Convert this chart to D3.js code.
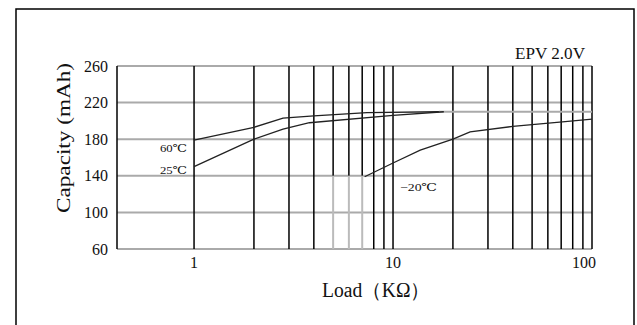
<!DOCTYPE html>
<html lang="en">
<head>
  <meta charset="UTF-8">
  <title>Capacity vs Load</title>
  <script src="https://d3js.org/d3.v7.min.js"></script>
  <style>
    body { margin: 0; background: #fff; }
    text { font-family: "Liberation Serif", "DejaVu Serif", serif; fill: #111; }
    .hgrid { stroke: #aaa; stroke-width: 2px; }
    .vgrid { stroke: #000; stroke-width: 1.5px; }
    .curve { fill: none; stroke: #222; stroke-width: 1.3px; }
  </style>
</head>
<body>
<svg id="chart" width="637" height="325"></svg>
<script>
  // data
  const loadTicks = [1, 2, 3, 4, 5, 6, 7, 8, 9, 10, 20, 30, 40, 50, 60, 70, 80, 90, 100];
  const loadLabels = [1, 10, 100];
  const capTicks = [60, 100, 140, 180, 220, 260];
  const faintBelow140 = [5, 6, 7];   // these verticals are grey under 140

  const hot60 = [[1, 179], [2, 193], [2.8, 203], [4, 205.5], [7.4, 209], [17, 210]];
  const room25 = [[1, 150], [2, 180], [2.8, 191], [3.8, 198], [10, 206], [18, 210]];
  const cold20 = [[7.2, 139], [10, 154], [13.7, 168], [20, 180], [24.4, 188], [40, 194], [71, 199], [100, 202]];
  const plateau = [[17, 210], [100, 210]];

  const svg = d3.select("#chart");

  // outer frame
  svg.append("rect").attr("x", 16).attr("y", 9).attr("width", 618).attr("height", 340)
     .attr("fill", "none").attr("stroke", "#000").attr("stroke-width", 1.5);

  const x = d3.scaleLog().domain([0.41, 100]).range([117, 592]);
  const y = d3.scaleLinear().domain([60, 260]).range([249, 66]);

  // horizontal grey lines
  svg.selectAll("line.hgrid").data(capTicks).join("line")
     .attr("class", "hgrid")
     .attr("x1", x.range()[0]).attr("x2", x.range()[1])
     .attr("y1", d => y(d)).attr("y2", d => y(d));

  // vertical lines
  svg.selectAll("line.vgrid").data(loadTicks).join("line")
     .attr("class", "vgrid")
     .attr("x1", d => x(d)).attr("x2", d => x(d))
     .attr("y1", y(260))
     .attr("y2", d => faintBelow140.includes(d) ? y(140) : y(60));
  svg.selectAll("line.vfaint").data(faintBelow140).join("line")
     .attr("class", "vfaint")
     .attr("stroke", "#bbb").attr("stroke-width", 2)
     .attr("x1", d => x(d)).attr("x2", d => x(d))
     .attr("y1", y(140)).attr("y2", y(60));

  // left axis line
  svg.append("line").attr("x1", x.range()[0]).attr("x2", x.range()[0])
     .attr("y1", y(260)).attr("y2", y(60)).attr("stroke", "#000").attr("stroke-width", 1.5);

  // y tick labels
  svg.selectAll("text.ylab").data(capTicks).join("text")
     .attr("class", "ylab")
     .attr("x", 108).attr("y", d => y(d) + 5.5)
     .attr("text-anchor", "end").attr("font-size", 16)
     .text(d => d);

  // x tick labels
  svg.selectAll("text.xlab").data(loadLabels).join("text")
     .attr("class", "xlab")
     .attr("x", d => d === 100 ? x(d) - 8 : x(d))
     .attr("y", 268)
     .attr("text-anchor", "middle").attr("font-size", 16)
     .text(d => d);

  // curves
  const line = d3.line().x(d => x(d[0])).y(d => y(d[1]));
  svg.append("path").datum(plateau).attr("d", line)
     .attr("fill", "none").attr("stroke", "#aaa").attr("stroke-width", 2);
  [hot60, room25, cold20].forEach(s => {
    svg.append("path").datum(s).attr("class", "curve").attr("d", line);
  });

  // curve labels (glyphs stretched to the widths seen in the picture)
  const label = (tx, ty, len, size, str) =>
    svg.append("text").attr("x", tx).attr("y", ty)
       .attr("font-size", size).attr("textLength", len)
       .attr("lengthAdjust", "spacingAndGlyphs").text(str);

  label(160, 152, 27, 11, "60℃");
  label(160, 174, 27, 11, "25℃");
  label(400, 191, 37, 11, "−20℃");
  label(515, 59, 70, 16, "EPV 2.0V");
  label(322, 297, 108, 20, "Load（KΩ）");

  // y title
  svg.append("text").attr("transform", "translate(70,138) rotate(-90)")
     .attr("text-anchor", "middle").attr("font-size", 18)
     .attr("textLength", 150).attr("lengthAdjust", "spacingAndGlyphs")
     .text("Capacity (mAh)");
</script>
</body>
</html>
